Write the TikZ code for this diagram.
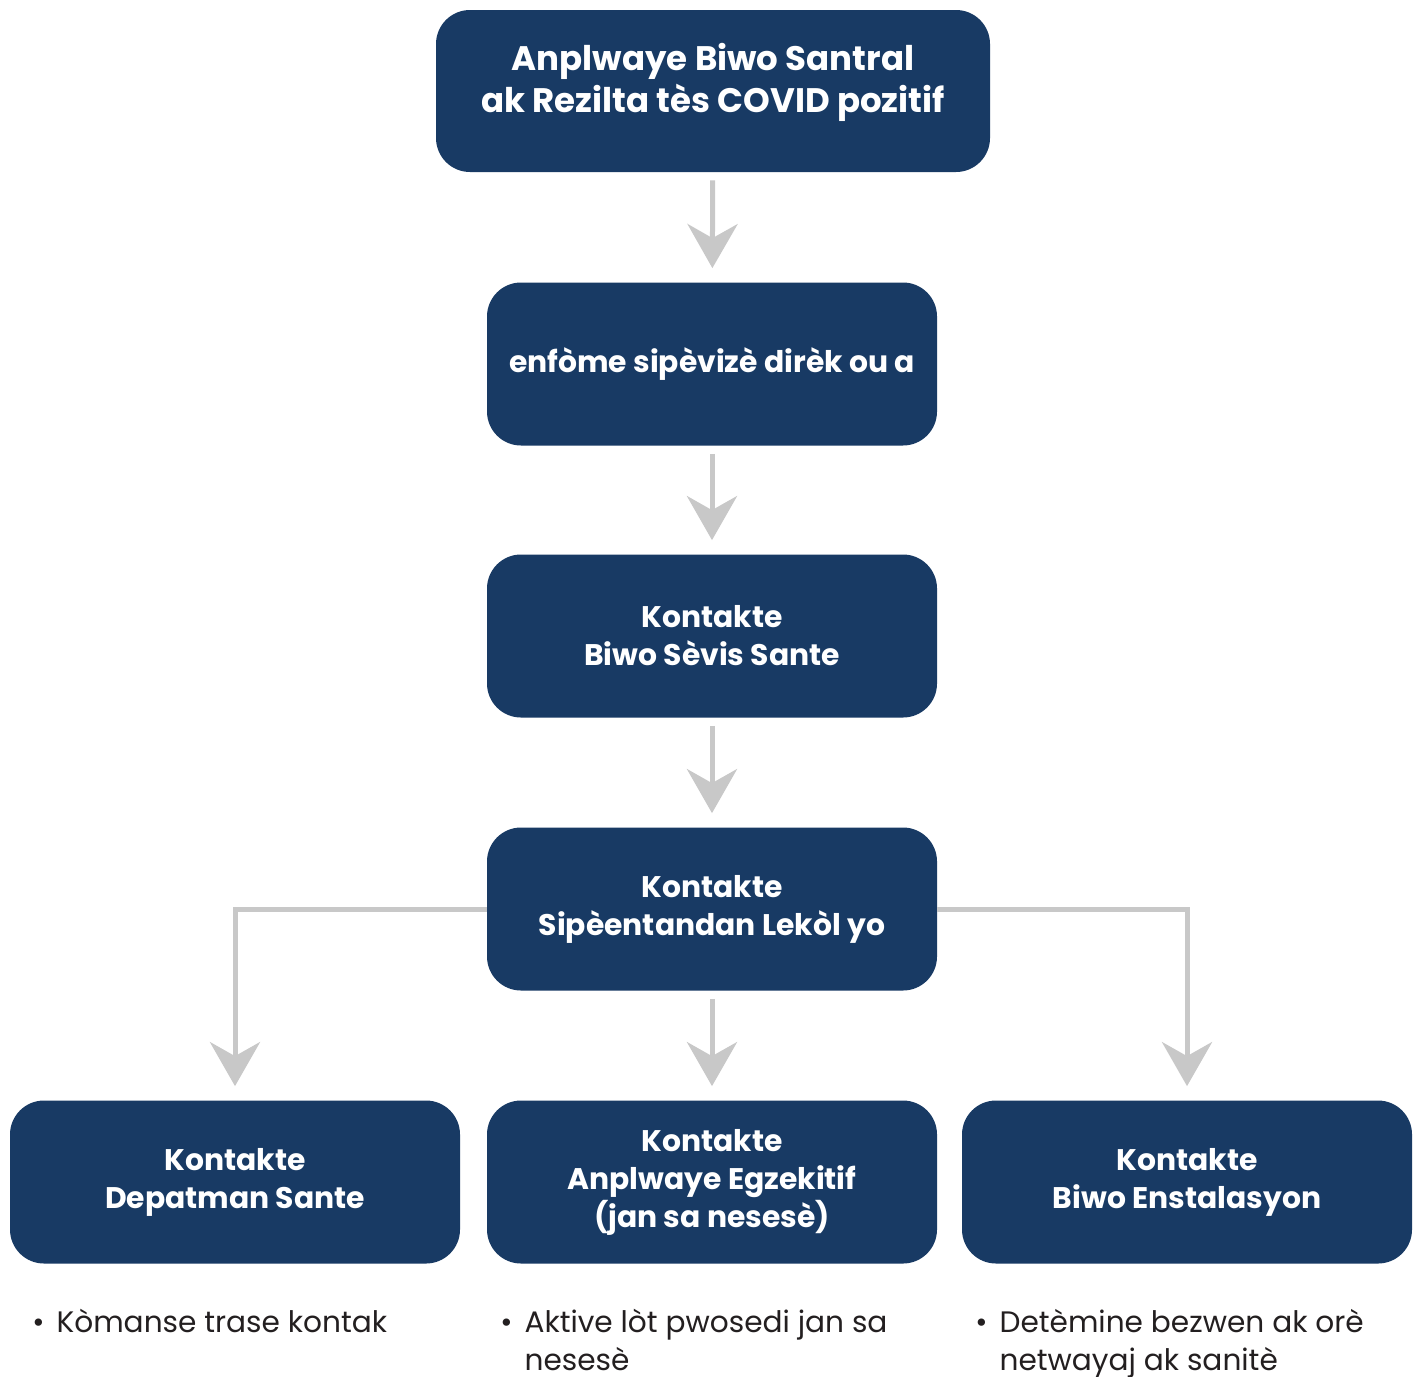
\documentclass[tikz,border=0pt]{standalone}
\usepackage{fontspec}
\setmainfont{Poppins}
\usetikzlibrary{arrows.meta}
\definecolor{navy}{HTML}{183A64}
\definecolor{arrowgray}{HTML}{C8C8C8}
\definecolor{txtdark}{HTML}{231F20}
\begin{document}
\begin{tikzpicture}[x=0.5pt,y=-0.5pt,
  box/.style={draw=none,fill=navy,rounded corners=17pt,text=white,align=center,
    font=\fontsize{14.9}{19}\selectfont\bfseries,minimum width=225pt,minimum height=81.5pt,inner sep=0pt},
  bigbox/.style={box,minimum width=277pt,minimum height=81pt,font=\fontsize{17}{21}\selectfont\bfseries,text depth=13pt},
  flow/.style={draw=arrowgray,line width=2.5pt,-{Stealth[length=22pt,width=25pt,inset=7pt]},shorten <=4pt,shorten >=7pt},
  note/.style={anchor=north west,inner sep=0pt,align=left,text=txtdark,font=\fontsize{14.8}{19}\selectfont}
]
\useasboundingbox[fill=white] (0,0) rectangle (1416,1376);
\node[bigbox] (b1) at (713,91) {Anplwaye Biwo Santral\\ak Rezilta tès COVID pozitif};
\node[box] (b2) at (712,364) {enfòme sipèvizè dirèk ou a};
\node[box] (b3) at (712,636) {Kontakte\\Biwo Sèvis Sante};
\node[box] (b4) at (712,909) {Kontakte\\Sipèentandan Lekòl yo};
\node[box] (b5) at (235,1182) {Kontakte\\Depatman Sante};
\node[box] (b6) at (712,1182) {Kontakte\\Anplwaye Egzekitif\\(jan sa nesesè)};
\node[box] (b7) at (1187,1182) {Kontakte\\Biwo Enstalasyon};
\draw[flow] (b1) -- (b2);
\draw[flow] (b2) -- (b3);
\draw[flow] (b3) -- (b4);
\draw[flow] (b4) -- (b6);
\draw[flow,shorten <=0pt] (b4.west) -| (b5.north);
\draw[flow,shorten <=0pt] (b4.east) -| (b7.north);
\node[note] (n1) at (32,1305) {\begin{tabular}{@{}l@{\hspace{6pt}}l@{}}\textbullet & Kòmanse trase kontak\end{tabular}};
\node[note] (n2) at (500,1305) {\begin{tabular}{@{}l@{\hspace{6pt}}l@{}}\textbullet & Aktive lòt pwosedi jan sa\\ & nesesè\end{tabular}};
\node[note] (n3) at (975,1305) {\begin{tabular}{@{}l@{\hspace{6pt}}l@{}}\textbullet & Detèmine bezwen ak orè\\ & netwayaj ak sanitè\end{tabular}};
\end{tikzpicture}
\end{document}
